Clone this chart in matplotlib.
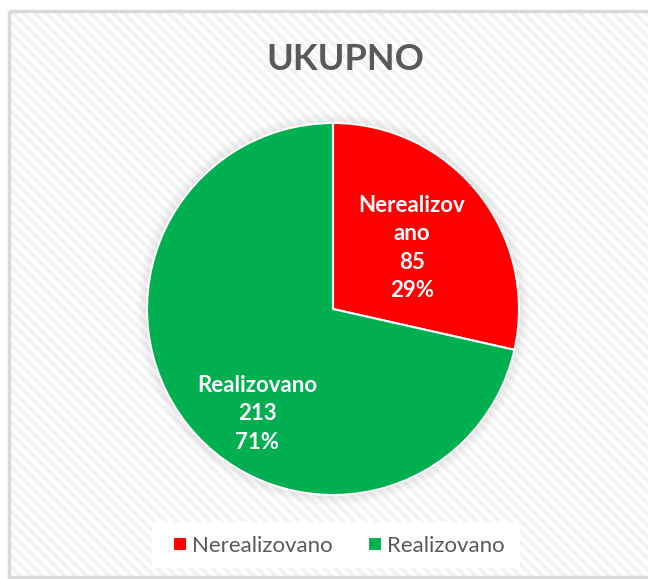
import matplotlib.pyplot as plt
from matplotlib.patches import Rectangle, Circle

labels = ['Nerealizovano', 'Realizovano']
values = [85, 213]
colors = ['#FF0000', '#00B050']
slice_text = ['Nerealizov\nano', 'Realizovano']

plt.rcParams['font.family'] = ['Lato', 'DejaVu Sans']

fig = plt.figure(figsize=(6.48, 5.79), dpi=100)
fig.patch.set_facecolor('white')

# chart area with light diagonal stripes
bg = fig.add_axes([0, 0, 1, 1], zorder=0)
bg.set_xlim(0, 648)
bg.set_ylim(579, 0)
bg.axis('off')
stripes = Rectangle((9, 11), 700, 566, facecolor='white', edgecolor='#F3F3F3',
                    lw=0, hatch='\\\\\\')
bg.add_patch(stripes)
if hasattr(stripes, 'set_hatch_linewidth'):
    stripes.set_hatch_linewidth(3.0)
bg.add_patch(Rectangle((9, 11), 700, 566, facecolor='none', edgecolor='#D9D9D9', lw=2.5))

# legend box
bg.add_patch(Rectangle((152, 522), 368, 46, facecolor='white', edgecolor='none'))

# soft shadow round the pie
for k in range(10):
    bg.add_patch(Circle((333, 309), 186 + 10 - k, facecolor='#808080', alpha=0.012,
                        edgecolor='none'))

ax = fig.add_axes([(333 - 186) / 648, 1 - (309 + 186) / 579, 372 / 648, 372 / 579], zorder=1)
total = sum(values)
wedges, _ = ax.pie(values, colors=colors, startangle=90, counterclock=False,
                   wedgeprops=dict(linewidth=1.5, edgecolor='white'))
ax.set_xlim(-1.0, 1.0)
ax.set_ylim(-1.0, 1.0)
ax.set_aspect('equal')

pos = [(412, 248), (257, 414)]
for (x, y), t, v in zip(pos, slice_text, values):
    fig.text(x / 648, 1 - y / 579, f'{t}\n{v}\n{round(100 * v / total)}%', ha='center',
             va='center', color='white', fontsize=16, fontweight='bold', linespacing=1.43)

fig.text(345 / 648, 1 - 59 / 579, 'UKUPNO', ha='center', va='center', color='#595959',
         fontsize=26, fontweight='bold')

leg = fig.legend(wedges, labels, loc='center', bbox_to_anchor=(339 / 648, 1 - 546 / 579),
                 ncol=2, frameon=False, fontsize=16, handlelength=0.6, handleheight=0.6,
                 columnspacing=1.6, handletextpad=0.25, labelcolor='#595959')

fig.savefig('out.png', dpi=100, facecolor='white')
